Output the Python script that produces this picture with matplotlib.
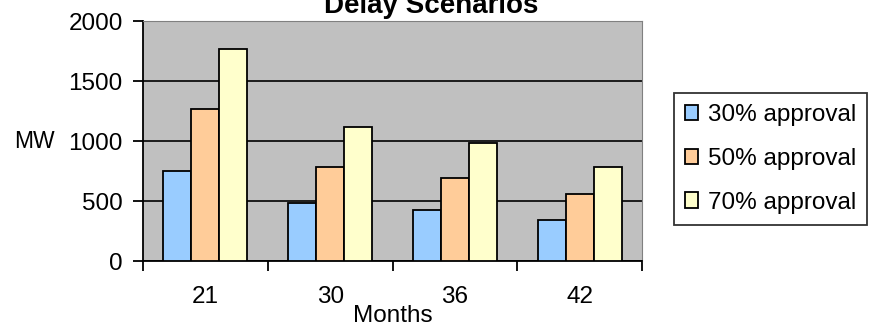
import matplotlib
matplotlib.use("Agg")
import matplotlib.pyplot as plt
import numpy as np

plt.rcParams['font.family'] = ['Liberation Sans', 'DejaVu Sans']

months = ["21", "30", "36", "42"]
series_names = ["30% approval", "50% approval", "70% approval"]
approval_30 = [750, 480, 425, 345]
approval_50 = [1270, 785, 690, 558]
approval_70 = [1767, 1118, 981, 786]
colors = ["#99CCFF", "#FFCC99", "#FFFFCC"]

W, H = 871, 328
FS = 17.5

fig = plt.figure(figsize=(W / 100, H / 100), dpi=100)
ax = fig.add_axes([143 / W, 1 - 261 / H, (642 - 143) / W, (261 - 21) / H])
ax.set_facecolor("#C0C0C0")

x = np.arange(len(months))
width = 0.225
for i, (vals, name, c) in enumerate(zip([approval_30, approval_50, approval_70], series_names, colors)):
    ax.bar(x + (i - 1) * width, vals, width, color=c, edgecolor="black", linewidth=1.3,
           label=name, zorder=3)

ax.set_xlim(-0.5, len(months) - 0.5)
ax.set_ylim(0, 2000)
ax.set_yticks([0, 500, 1000, 1500, 2000])
ax.yaxis.grid(True, color="black", linewidth=1.2, zorder=1)
ax.set_axisbelow(True)

ax.set_xticks(x)
ax.set_xticklabels(months, fontsize=FS)
ax.set_xticks(np.arange(-0.5, len(months)), minor=True)
ax.tick_params(axis="x", which="major", length=0, pad=18)
ax.tick_params(axis="x", which="minor", length=7, width=1.3, direction="out")
ax.tick_params(axis="y", labelsize=FS, length=7, width=1.3, direction="out", pad=7.5)

for s in ["top", "right"]:
    ax.spines[s].set_color("#808080")
    ax.spines[s].set_linewidth(0.8)
for s in ["left", "bottom"]:
    ax.spines[s].set_linewidth(1.3)

ax.set_xlabel("Months", fontsize=FS, labelpad=-2)
fig.text(34 / W, 1 - 141 / H, "MW", fontsize=16.5, ha="center", va="center")

fig.text(431 / W, 1 - 13 / H, "Delay Scenarios", ha="center", va="baseline",
         fontsize=20, fontweight="bold")

leg = ax.legend(loc="upper left", bbox_to_anchor=(674 / W, 1 - 93 / H),
                bbox_transform=fig.transFigure,
                fontsize=FS, frameon=True, fancybox=False, edgecolor="black",
                handlelength=0.55, handleheight=0.6, handletextpad=0.4,
                labelspacing=0.9, borderpad=0.45, borderaxespad=0)
leg.get_frame().set_linewidth(1.3)
for h in leg.legend_handles:
    h.set_linewidth(1.3)

fig.savefig("out.png", dpi=100)
